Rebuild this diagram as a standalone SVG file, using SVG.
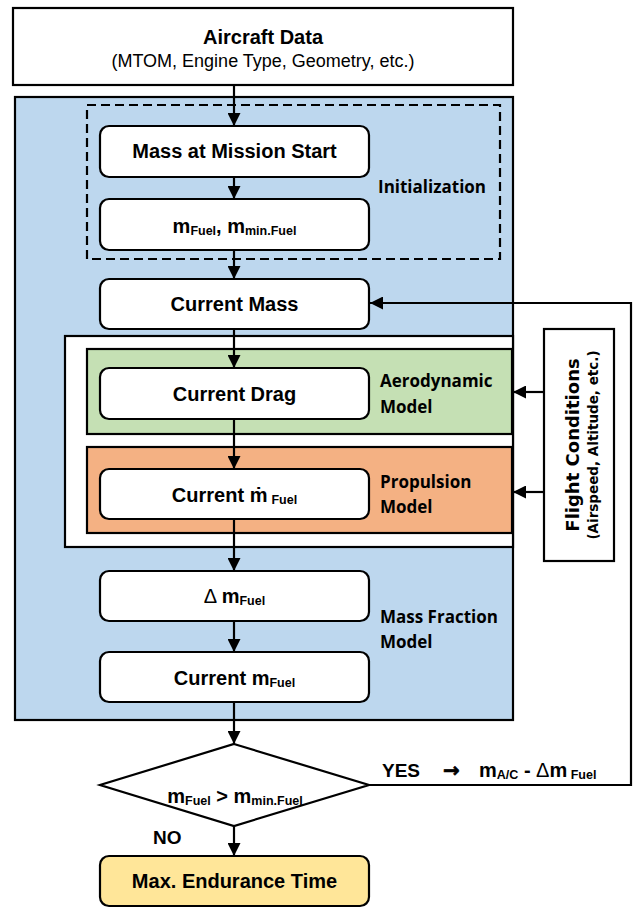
<svg xmlns="http://www.w3.org/2000/svg" width="633" height="908" viewBox="0 0 633 908">
<style>
.t{font-family:"Liberation Sans",Arial,"DejaVu Sans",sans-serif;font-weight:700;fill:#000}
.r{font-family:"Liberation Sans",Arial,sans-serif;font-weight:400;fill:#000}
.c{font-family:"Open Sans","Noto Sans",sans-serif;font-weight:700;font-size:17px;fill:#000}
.v{font-family:"DejaVu Sans",Verdana,sans-serif;font-weight:700;fill:#000}
.box{fill:#fff;stroke:#000;stroke-width:2.2}
.frame{stroke:#000;stroke-width:2.2}
.ln{fill:none;stroke:#000;stroke-width:2.2}
.sub{font-size:12.5px}
.m{font-size:20px}
</style>
<defs>
<marker id="ah" markerUnits="userSpaceOnUse" markerWidth="14" markerHeight="13" refX="13" refY="6.5" orient="auto">
<path d="M0,0 L13,6.5 L0,13 z" fill="#000"/>
</marker>
</defs>

<g id="aircraft-data">
<rect class="box" x="13" y="8" width="500" height="77"/>
<text class="t" x="263" y="44" font-size="20" text-anchor="middle">Aircraft Data</text>
<text class="r" x="263" y="67" font-size="18" text-anchor="middle">(MTOM, Engine Type, Geometry, etc.)</text>
</g>

<g id="main-frame">
<rect class="frame" x="15" y="97" width="498" height="623" fill="#BDD7EE"/>
</g>
<g id="model-frame">
<rect class="frame" x="65" y="336" width="448" height="211" fill="#fff"/>
</g>
<g id="initialization">
<rect x="87" y="105" width="413" height="154" fill="none" stroke="#000" stroke-width="2.2" stroke-dasharray="9,5"/>
<text class="c" x="378" y="193">Initialization</text>
</g>
<g id="aerodynamic-model">
<rect class="frame" x="87" y="349" width="425" height="85" fill="#C5E0B4"/>
<text class="c" x="380" y="387">Aerodynamic</text>
<text class="c" x="380" y="413">Model</text>
</g>
<g id="propulsion-model">
<rect class="frame" x="87" y="447" width="425" height="86" fill="#F4B183"/>
<text class="c" x="380" y="488">Propulsion</text>
<text class="c" x="380" y="513">Model</text>
</g>
<g id="mass-fraction-label">
<text class="c" x="380" y="623">Mass Fraction</text>
<text class="c" x="380" y="648">Model</text>
</g>

<g id="mass-start">
<rect class="box" x="100" y="126" width="269" height="51" rx="9"/>
<text class="t" x="234.5" y="158" font-size="20" text-anchor="middle">Mass at Mission Start</text>
</g>
<g id="fuel-init">
<rect class="box" x="100" y="199" width="269" height="51" rx="9"/>
<text class="t" x="234.5" y="233" text-anchor="middle"><tspan class="m">m</tspan><tspan class="sub" dy="1.5">Fuel</tspan><tspan class="m" dy="-1.5">, m</tspan><tspan class="sub" dy="1.5">min.Fuel</tspan></text>
</g>
<g id="current-mass">
<rect class="box" x="100" y="279" width="269" height="50" rx="9"/>
<text class="t" x="234.5" y="311" font-size="20" text-anchor="middle">Current Mass</text>
</g>
<g id="current-drag">
<rect class="box" x="100" y="368" width="269" height="51" rx="9"/>
<text class="t" x="234.5" y="401" font-size="20" text-anchor="middle">Current Drag</text>
</g>
<g id="current-mdot">
<rect class="box" x="100" y="469" width="269" height="50" rx="9"/>
<text class="t" x="234.5" y="502" text-anchor="middle"><tspan class="m">Current ṁ</tspan><tspan class="sub" dx="4" dy="2">Fuel</tspan></text>
</g>
<g id="delta-mfuel">
<rect class="box" x="100" y="571" width="269" height="50" rx="9"/>
<text class="t" x="234.5" y="603" text-anchor="middle"><tspan class="r m">Δ </tspan><tspan class="m">m</tspan><tspan class="sub" dy="1.5">Fuel</tspan></text>
</g>
<g id="current-mfuel">
<rect class="box" x="100" y="652" width="269" height="50" rx="9"/>
<text class="t" x="234.5" y="685" text-anchor="middle"><tspan class="m">Current m</tspan><tspan class="sub" dy="1.5">Fuel</tspan></text>
</g>
<g id="decision">
<polygon class="box" points="234,744 369,785 234,826 100,785"/>
<text class="t" x="235" y="803" text-anchor="middle"><tspan class="m">m</tspan><tspan class="sub" dy="1.5">Fuel</tspan><tspan class="m" dy="-1.5"> &gt; m</tspan><tspan class="sub" dy="1.5">min.Fuel</tspan></text>
</g>
<g id="max-endurance">
<rect x="100" y="856" width="269" height="50" rx="9" fill="#FFE699" stroke="#000" stroke-width="2.2"/>
<text class="t" x="234.5" y="888" font-size="20" text-anchor="middle">Max. Endurance Time</text>
</g>
<g id="flight-conditions">
<rect class="box" x="544" y="329" width="70" height="232"/>
<text class="v" transform="translate(579,445) rotate(-90)" font-size="18" text-anchor="middle">Flight Conditions</text>
<text class="v" transform="translate(598,445) rotate(-90)" font-size="13.5" text-anchor="middle">(Airspeed, Altitude, etc.)</text>
</g>

<g id="connectors">
<line class="ln" x1="234" y1="85" x2="234" y2="126" marker-end="url(#ah)"/>
<line class="ln" x1="234" y1="177" x2="234" y2="199" marker-end="url(#ah)"/>
<line class="ln" x1="234" y1="250" x2="234" y2="279" marker-end="url(#ah)"/>
<line class="ln" x1="234" y1="329" x2="234" y2="368" marker-end="url(#ah)"/>
<line class="ln" x1="234" y1="419" x2="234" y2="469" marker-end="url(#ah)"/>
<line class="ln" x1="234" y1="519" x2="234" y2="571" marker-end="url(#ah)"/>
<line class="ln" x1="234" y1="621" x2="234" y2="652" marker-end="url(#ah)"/>
<line class="ln" x1="234" y1="702" x2="234" y2="744" marker-end="url(#ah)"/>
<line class="ln" x1="234" y1="826" x2="234" y2="856" marker-end="url(#ah)"/>
<polyline class="ln" points="369,785 631,785 631,303 370,303" marker-end="url(#ah)"/>
<line class="ln" x1="544" y1="392" x2="513" y2="392" marker-end="url(#ah)"/>
<line class="ln" x1="544" y1="492" x2="513" y2="492" marker-end="url(#ah)"/>
<text class="t" x="382" y="777" font-size="19">YES</text>
<text class="v" x="443" y="777" font-size="20" stroke="#000" stroke-width="0.6">→</text>
<text class="t" x="479" y="777"><tspan class="m">m</tspan><tspan class="sub" dy="1.5">A/C</tspan><tspan class="m" dy="-1.5"> - </tspan><tspan class="r m">Δ</tspan><tspan class="m">m</tspan><tspan class="sub" dy="2"> Fuel</tspan></text>
<text class="t" x="153" y="844" font-size="19">NO</text>
</g>
</svg>
